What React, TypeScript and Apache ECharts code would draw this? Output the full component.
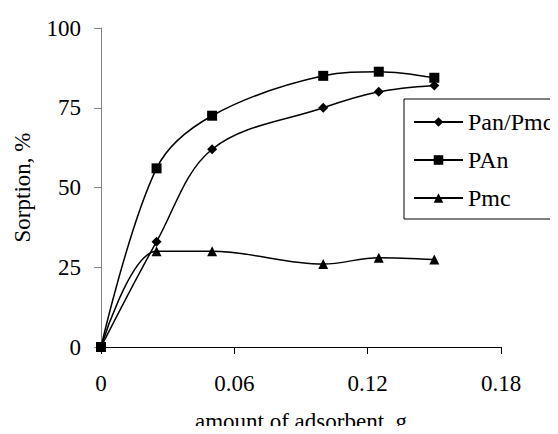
import React, { useEffect, useRef } from "react";
import * as echarts from "echarts";

const xValues = [0, 0.025, 0.05, 0.1, 0.125, 0.15];
const panPmc = [0, 33, 62, 75, 80, 82];
const pan = [0, 56, 72.5, 85, 86.3, 84.4];
const pmc = [0, 30, 30, 26, 28, 27.4];
const xTicks = { min: 0, max: 0.18, interval: 0.06 };
const yTicks = { min: 0, max: 100, interval: 25 };

const FONT = "Liberation Serif";

function pairs(ys: number[]) {
  return xValues.map((x, i) => [x, ys[i]]);
}

export default function App() {
  const ref = useRef<HTMLDivElement>(null);
  useEffect(() => {
    if (!ref.current) return;
    const chart = echarts.init(ref.current, undefined, { renderer: "svg" });
    const lineStyle = { color: "#000", width: 1.5 };
    const itemStyle = { color: "#000" };
    chart.setOption({
      animation: false,
      backgroundColor: "#fff",
      textStyle: { fontFamily: FONT, color: "#000" },
      grid: { left: 101, right: 57, top: 28, bottom: 87, outerBoundsMode: "none", containLabel: false },
      legend: {
        left: 404,
        top: 99,
        orient: "vertical",
        padding: [11, 3, 9, 9],
        itemGap: 14,
        itemWidth: 49,
        itemHeight: 12,
        borderColor: "#000",
        borderWidth: 1,
        backgroundColor: "#fff",
        textStyle: { fontFamily: FONT, fontSize: 24, color: "#000", lineHeight: 24, overflow: "none" },
        data: ["Pan/Pmc", "PAn", "Pmc"],
      },
      xAxis: {
        type: "value",
        min: xTicks.min,
        max: xTicks.max,
        interval: xTicks.interval,
        name: "amount of adsorbent, g",
        nameLocation: "middle",
        nameGap: 63,
        nameTextStyle: { fontFamily: FONT, fontSize: 23, color: "#000" },
        axisLine: { show: true, lineStyle: { color: "#000", width: 1 } },
        axisTick: { show: true, length: 7, lineStyle: { color: "#000" } },
        axisLabel: {
          fontFamily: FONT,
          fontSize: 23,
          color: "#000",
          margin: 25,
          formatter: (v: number) => (v === 0 ? "0" : v.toFixed(2)),
        },
        splitLine: { show: false },
      },
      yAxis: {
        type: "value",
        min: yTicks.min,
        max: yTicks.max,
        interval: yTicks.interval,
        name: "Sorption, %",
        nameLocation: "middle",
        nameGap: 67,
        nameTextStyle: { fontFamily: FONT, fontSize: 23, color: "#000" },
        axisLine: { show: true, lineStyle: { color: "#808080", width: 1 } },
        axisTick: { show: true, length: 7, lineStyle: { color: "#808080" } },
        axisLabel: { fontFamily: FONT, fontSize: 23, color: "#000", margin: 20 },
        splitLine: { show: false },
      },
      series: [
        {
          name: "Pan/Pmc",
          type: "line",
          data: pairs(panPmc),
          smooth: 0.35,
          symbol: "diamond",
          symbolSize: 10,
          lineStyle,
          itemStyle,
          z: 2,
        },
        {
          name: "PAn",
          type: "line",
          data: pairs(pan),
          smooth: 0.35,
          symbol: "rect",
          symbolSize: 10,
          lineStyle,
          itemStyle,
          z: 4,
        },
        {
          name: "Pmc",
          type: "line",
          data: pairs(pmc),
          smooth: 0.35,
          symbol: "triangle",
          symbolSize: 10,
          lineStyle,
          itemStyle,
          z: 3,
        },
      ],
    });
    return () => chart.dispose();
  }, []);
  return <div ref={ref} style={{ width: 558, height: 434, margin: -8 }} />;
}
